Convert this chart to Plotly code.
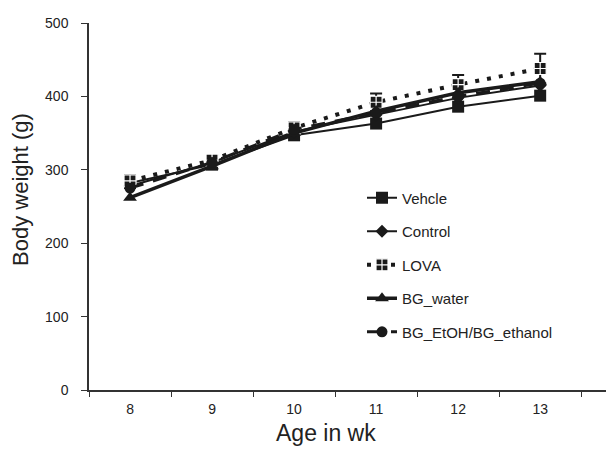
import plotly.graph_objects as go

weeks = ["8", "9", "10", "11", "12", "13"]
vehicle = [282, 307, 347, 363, 386, 401]
control = [278, 310, 352, 375, 398, 415]
lova = [285, 313, 357, 392, 416, 438]
lova_err = [8, 7, 8, 12, 13, 20]
bg_water = [262, 305, 350, 380, 405, 420]
bg_etoh = [275, 310, 355, 378, 400, 418]

xpos = list(range(len(weeks)))
ink = "#1a1a1a"

fig = go.Figure()
fig.add_trace(go.Scatter(
    x=xpos, y=vehicle, name="Vehcle", mode="lines+markers", legendgroup="a",
    line=dict(color=ink, width=2), marker=dict(symbol="square", size=12, color=ink)))
fig.add_trace(go.Scatter(
    x=xpos, y=control, name="Control", mode="lines+markers", legendgroup="b",
    line=dict(color=ink, width=2), marker=dict(symbol="diamond", size=10, color=ink)))
fig.add_trace(go.Scatter(
    x=xpos, y=lova, name="LOVA", mode="lines+markers", legendgroup="c",
    line=dict(color=ink, width=4, dash="4px,8px"),
    marker=dict(symbol="square-cross", size=12, color=ink, line=dict(color="white", width=1.2)),
    error_y=dict(type="data", array=lova_err, visible=True, color=ink, thickness=2, width=6)))
fig.add_trace(go.Scatter(
    x=xpos, y=bg_water, name="BG_water", mode="lines+markers", legendgroup="d",
    line=dict(color=ink, width=3.5), marker=dict(symbol="triangle-up", size=12, color=ink)))
fig.add_trace(go.Scatter(
    x=xpos, y=bg_etoh, name="BG_EtOH/BG_ethanol", mode="lines+markers", legendgroup="e",
    line=dict(color=ink, width=3, dash="14px,10px"), marker=dict(symbol="circle", size=11, color=ink)))

fig.update_layout(
    width=606, height=449,
    margin=dict(l=81, r=0, t=15, b=67),
    paper_bgcolor="white", plot_bgcolor="white",
    font=dict(family="Liberation Sans, Arial, sans-serif", size=14, color="#222"),
    showlegend=True,
    legend=dict(x=0.52, y=0.568, xanchor="left", yanchor="top",
                bgcolor="rgba(0,0,0,0)", font=dict(size=15, color="#222"),
                tracegroupgap=11, traceorder="grouped"),
    xaxis=dict(
        range=[-0.5, 5.9], tickvals=xpos, ticktext=weeks, ticks="", automargin=False,
        showgrid=False, zeroline=False, showline=True, linecolor="#333", linewidth=1.5,
        tickfont=dict(size=14, color="#222"), ticklabelstandoff=5,
        minor=dict(tick0=-0.5, dtick=1, ticks="outside", ticklen=5, tickwidth=1.2,
                   tickcolor="#333", showgrid=False)),
    yaxis=dict(
        range=[0, 500], tickvals=[0, 100, 200, 300, 400, 500], ticks="outside",
        ticklen=6, tickwidth=1.2, tickcolor="#333", automargin=False,
        showgrid=False, zeroline=False, showline=True, linecolor="#333", linewidth=1.5,
        tickfont=dict(size=14, color="#222"), ticklabelstandoff=10),
    annotations=[
        dict(text="Age in wk", xref="paper", yref="paper",
             x=(326 - 89) / 525, y=-(433 - 390) / 367, xanchor="center", yanchor="middle",
             showarrow=False, font=dict(size=23, color="#222")),
        dict(text="Body weight (g)", xref="paper", yref="paper", textangle=-90,
             x=-(89 - 21) / 525, y=(390 - 190) / 367, xanchor="center", yanchor="middle",
             showarrow=False, font=dict(size=22, color="#222")),
    ],
)

fig.write_html("out.html")
